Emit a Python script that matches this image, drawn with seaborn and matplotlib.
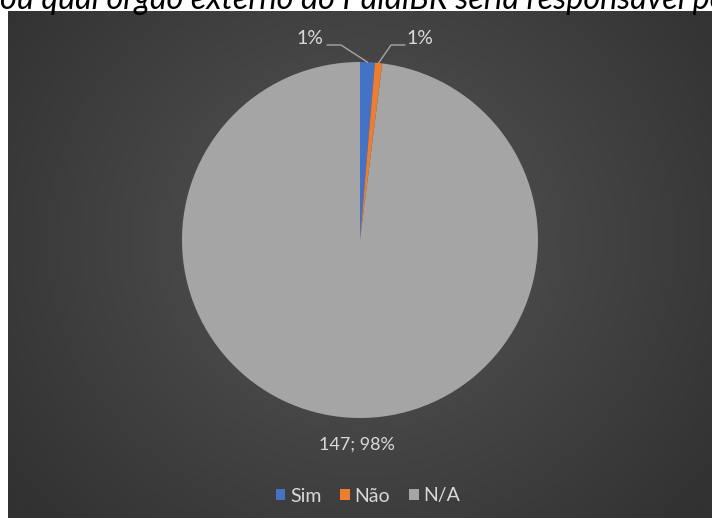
import numpy as np
import matplotlib
matplotlib.use("Agg")
import matplotlib.pyplot as plt
import seaborn as sns
from matplotlib.patches import Patch

sns.set_theme(style="white")
plt.rcParams["font.family"] = ["Lato", "DejaVu Sans"]

# Answers and counts
categories = ["Sim", "Não", "N/A"]
counts = [2, 1, 147]
pct_labels = ["1%", "1%", "147; 98%"]
colors = ["#4472C4", "#ED7D31", "#A5A5A5"]
title = "ou qual órgão externo do PaidiBR seria responsável pe"

W, H = 712, 518
fig = plt.figure(figsize=(W / 100, H / 100), dpi=100, facecolor="white")

# Dark chart panel with a soft radial gradient
bg = fig.add_axes([8 / W, 0, (W - 8) / W, (H - 11) / H])
ny, nx = 260, 360
yy, xx = np.mgrid[0:ny, 0:nx]
cx, cy = nx * 0.50, ny * 0.45
d = np.sqrt(((xx - cx) / (nx * 0.62)) ** 2 + ((yy - cy) / (ny * 0.80)) ** 2)
d = np.clip(d, 0, 1)
inner, outer = np.array([0x56, 0x56, 0x56]) / 255, np.array([0x32, 0x32, 0x32]) / 255
img = inner[None, None, :] * (1 - d[..., None]) + outer[None, None, :] * d[..., None]
bg.imshow(img, aspect="auto", interpolation="bilinear")
bg.set_axis_off()

# Title line (partially outside the figure top)
fig.text(0 / W, (H - 9) / H, title, ha="left", va="baseline", fontsize=23.3,
         style="italic", color="black")

# Pie
R = 178
cxp, cyp = 360, 240
ax = fig.add_axes([(cxp - R) / W, (H - cyp - R) / H, 2 * R / W, 2 * R / H])
wedges, _ = ax.pie(counts, colors=colors, startangle=90, counterclock=False,
                   radius=1, wedgeprops=dict(linewidth=0))
ax.set_xlim(-1, 1)
ax.set_ylim(-1, 1)
ax.set_aspect("equal")
ax.set_axis_off()

txt_color = "#D9D9D9"
line_color = "#A6A6A6"

def px(x, y):
    return (x - cxp) / R, (cyp - y) / R

# Slice mid-angles for the leader lines
total = sum(counts)
start = 90.0
mids = []
for c in counts:
    span = 360.0 * c / total
    mids.append(np.deg2rad(start - span / 2))
    start -= span

lx, ly = px(310, 39)
ax.text(lx, ly, pct_labels[0], ha="center", va="center", fontsize=14, color=txt_color)
ex, ey = np.cos(mids[0]), np.sin(mids[0])
k1 = px(327, 45)
k2 = px(341, 45)
ax.plot([k1[0], k2[0], ex], [k1[1], k2[1], ey], color=line_color, lw=1, clip_on=False)

lx, ly = px(420, 39)
ax.text(lx, ly, pct_labels[1], ha="center", va="center", fontsize=14, color=txt_color)
ex, ey = np.cos(mids[1]), np.sin(mids[1])
k1 = px(405, 45)
k2 = px(391, 45)
ax.plot([k1[0], k2[0], ex], [k1[1], k2[1], ey], color=line_color, lw=1, clip_on=False)

lx, ly = px(357, 445)
ax.text(lx, ly, pct_labels[2], ha="center", va="center", fontsize=13, color=txt_color)

# Legend
handles = [Patch(facecolor=c, edgecolor="none") for c in colors]
fig.legend(handles, categories, loc="center", bbox_to_anchor=(368 / W, (H - 496) / H),
           ncol=3, frameon=False, fontsize=14, labelcolor=txt_color,
           handlelength=0.5, handleheight=0.5, handletextpad=0.25, columnspacing=0.95)

fig.savefig("out.png", dpi=100, facecolor="white")
